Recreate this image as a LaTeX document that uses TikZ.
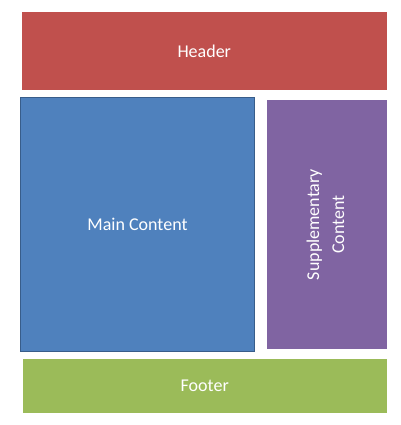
\documentclass[tikz,border=0pt]{standalone}
\usepackage{fontspec}
\setmainfont{Carlito}
\usepackage{tikz}
\usetikzlibrary{positioning, shadows}

\definecolor{headred}{HTML}{C0504D}
\definecolor{mainblue}{HTML}{4F81BD}
\definecolor{mainedge}{HTML}{385D8A}
\definecolor{suppviolet}{HTML}{8064A2}
\definecolor{footgreen}{HTML}{9BBB59}

\begin{document}
\begin{tikzpicture}[
	every node/.style={rectangle, inner sep=0pt, outer sep=0pt, text=white, font=\fontsize{18}{24}\selectfont},
	framed_box/.style={draw=white, line width=3pt,
		drop shadow={opacity=0.35, shadow xshift=0.8pt, shadow yshift=-1.2pt}},
	main_box/.style={draw=mainedge, line width=1.5pt, fill=mainblue}
	]
	
	% --- page size ---
	\useasboundingbox (0,0) rectangle (400pt,-425pt);
	
	% --- boxes ---
	\node[framed_box, fill=headred, minimum width=367.5pt, minimum height=81pt, anchor=north west]
		(header) at (20.5pt,-10.5pt) {Header};
	\node[main_box, minimum width=234pt, minimum height=254pt]
		(main) [below right=6pt and 0pt of header.south west] {Main Content};
	\node[framed_box, fill=suppviolet, minimum width=122.5pt, minimum height=252pt]
		(supp) [below right=1pt and 11pt of main.north east]
		{\rotatebox{90}{\begin{tabular}{@{}c@{}}Supplementary\\[1pt]Content\end{tabular}}};
	\node[framed_box, fill=footgreen, minimum width=366.5pt, minimum height=57pt]
		(footer) [below right=6pt and 1pt of main.south west] {Footer};
	
\end{tikzpicture}
\end{document}
